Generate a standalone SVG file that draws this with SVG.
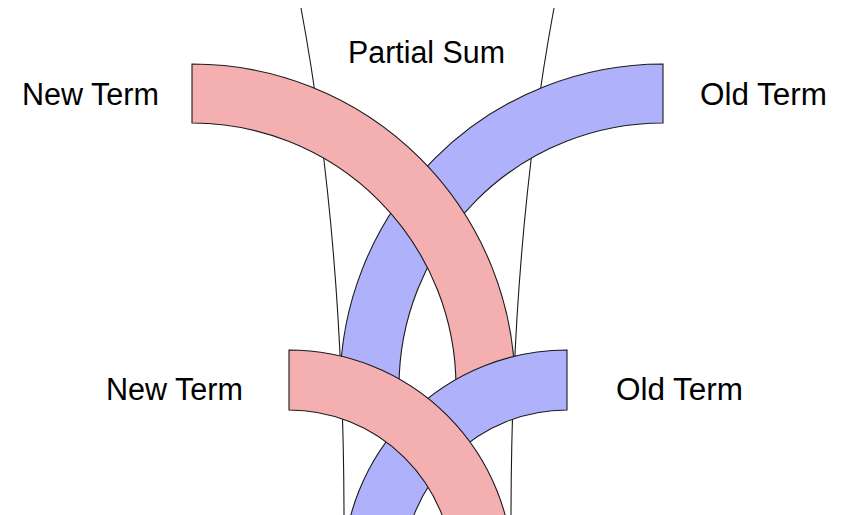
<svg xmlns="http://www.w3.org/2000/svg" width="845" height="515" viewBox="0 0 845 515">
<style>
.ln{fill:none;stroke:#1a1a1a;stroke-width:1.1}
.red{fill:#f4afb1;stroke:#1a1a1a;stroke-width:1.1}
.blue{fill:#afb1fb;stroke:#1a1a1a;stroke-width:1.1}
text{font-family:"Liberation Sans","DejaVu Sans",sans-serif;font-size:31px;fill:#000}
</style>
<rect width="845" height="515" fill="#fff"/>
<g id="connectors">
<path class="ln" d="M301 8 Q344 240 344 520"/>
<path class="ln" d="M554 8 Q511 240 511 520"/>
</g>
<g id="old-term-top">
<path class="blue" d="M663 64 A323 323 0 0 0 340 387 L399 387 A264 264 0 0 1 663 123 Z"/>
<text x="700" y="105" textLength="127" lengthAdjust="spacingAndGlyphs">Old Term</text>
</g>
<g id="new-term-top">
<path class="red" d="M192 64 A323 323 0 0 1 515 387 L456 387 A264 264 0 0 0 192 123 Z"/>
<text x="22" y="105" textLength="137" lengthAdjust="spacingAndGlyphs">New Term</text>
</g>
<g id="old-term-bottom">
<path class="blue" d="M567 350 A224 224 0 0 0 343 574 L403 574 A164 164 0 0 1 567 410 Z"/>
<text x="616" y="400" textLength="127" lengthAdjust="spacingAndGlyphs">Old Term</text>
</g>
<g id="new-term-bottom">
<path class="red" d="M289 350 A224 224 0 0 1 513 574 L453 574 A164 164 0 0 0 289 410 Z"/>
<text x="106" y="400" textLength="137" lengthAdjust="spacingAndGlyphs">New Term</text>
</g>
<g id="partial-sum">
<text x="348" y="63" textLength="157" lengthAdjust="spacingAndGlyphs">Partial Sum</text>
</g>
</svg>
